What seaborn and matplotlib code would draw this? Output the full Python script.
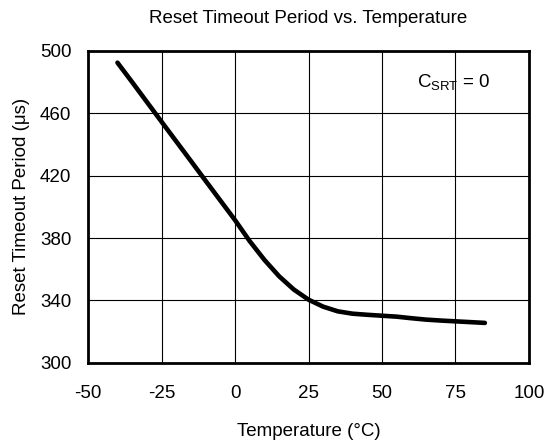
import matplotlib
matplotlib.use("Agg")
import matplotlib.pyplot as plt
import seaborn as sns
import pandas as pd

temperature = [-40, -35, -30, -25, -20, -15, -10, -5, 0, 5, 10, 15, 20, 25,
               30, 35, 40, 45, 50, 55, 60, 65, 70, 75, 80, 85]
period_us = [492.5, 480, 467.3, 454.6, 442, 429.4, 416.7, 404.1, 391.5, 378, 366, 355.5, 347, 340.5,
             336, 333, 331.5, 330.8, 330.2, 329.6, 328.6, 327.7, 327.1, 326.6, 326.1, 325.6]
x_ticks = [-50, -25, 0, 25, 50, 75, 100]
y_ticks = [300, 340, 380, 420, 460, 500]

sns.set_style("white")
plt.rcParams['font.family'] = ['Liberation Sans', 'DejaVu Sans']
plt.rcParams['mathtext.fontset'] = 'custom'
plt.rcParams['mathtext.rm'] = 'Liberation Sans'
plt.rcParams['mathtext.it'] = 'Liberation Sans'
plt.rcParams['axes.unicode_minus'] = False
plt.rcParams['text.color'] = 'black'
plt.rcParams['axes.labelcolor'] = 'black'

df = pd.DataFrame({"T": temperature, "P": period_us})

fig = plt.figure(figsize=(5.47, 4.43), dpi=100)
ax = fig.add_axes([0.161, 0.181, 0.806, 0.704])
sns.lineplot(data=df, x="T", y="P", ax=ax, color="black", linewidth=3.3)
for ln in ax.get_lines():
    ln.set_solid_capstyle("round")
    ln.set_solid_joinstyle("round")
ax.set_xlim(-50, 100)
ax.set_ylim(300, 500)
ax.set_xticks(x_ticks)
ax.set_yticks(y_ticks)
ax.grid(True, color="black", linewidth=0.8)
for s in ax.spines.values():
    s.set_color("black")
    s.set_linewidth(2.0)
ax.tick_params(direction="in", length=4, width=0.8, labelsize=13.5, colors="black")
ax.tick_params(axis="y", pad=12)
ax.tick_params(axis="x", pad=16)
ax.set_xlabel("Temperature (°C)", fontsize=13.5, labelpad=15, color="black")
ax.set_ylabel("Reset Timeout Period (μs)", fontsize=13.5, labelpad=7, color="black")
ax.set_title("Reset Timeout Period vs. Temperature", fontsize=13.5, pad=20, color="black")
ax.text(0.83, 0.90, r"C$_{\mathregular{SRT}}$ = 0", transform=ax.transAxes,
        fontsize=13.5, ha="center", va="center", color="black")
fig.savefig("out.png", dpi=100)
